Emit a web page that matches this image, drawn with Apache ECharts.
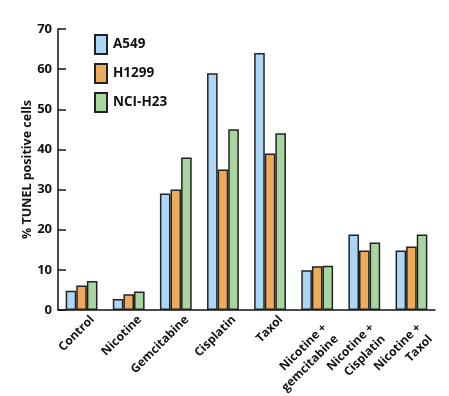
<!DOCTYPE html>
<html>
<head>
<meta charset="utf-8">
<script src="https://cdn.jsdelivr.net/npm/echarts@6/dist/echarts.min.js"></script>
<style>
  html, body { margin: 0; padding: 0; background: #fff; }
  #chart { width: 449px; height: 396px; }
</style>
</head>
<body>
<div id="chart"></div>
<script>
// categories and values
const categories = ['Control', 'Nicotine', 'Gemcitabine', 'Cisplatin', 'Taxol',
  'Nicotine +\ngemcitabine', 'Nicotine +\nCisplatin', 'Nicotine +\nTaxol'];
const a549 = [4.8, 2.7, 29, 59, 64, 9.9, 18.8, 14.8];
const h1299 = [6.1, 3.9, 30, 35, 39, 10.9, 14.8, 15.8];
const nciH23 = [7.2, 4.6, 38, 45, 44, 11, 16.8, 18.8];
const seriesNames = ['A549', 'H1299', 'NCI-H23'];
const seriesColors = ['#acd6f6', '#eeaa5c', '#a9d5a0'];

const FONT = '"Open Sans", sans-serif';
const chart = echarts.init(document.getElementById('chart'));

const makeSeries = (name, data, color) => ({
  name: name,
  type: 'bar',
  data: data,
  barWidth: 10.6,
  barGap: '0%',
  itemStyle: { color: color, borderColor: '#222', borderWidth: 1.5 }
});

// single-line labels sit a bit higher than the two-line ones
const labelFormatter = (v) => {
  const lines = v.split('\n');
  if (lines.length === 1) return '{s|' + v + '}';
  return '{m|' + lines[0] + '}\n{m|' + lines[1] + '}';
};
const labelText = { fontFamily: FONT, fontWeight: 'bold', fontSize: 12, color: '#111' };

chart.setOption({
  animation: false,
  grid: { left: 58, right: 14, top: 29, bottom: 86 },
  legend: {
    orient: 'vertical',
    left: 89,
    top: 29,
    itemWidth: 12,
    itemHeight: 19,
    itemGap: 8,
    icon: 'rect',
    textStyle: { fontFamily: FONT, fontWeight: 'bold', fontSize: 13.5, color: '#111', padding: [6, 0, 0, 1] },
    data: seriesNames
  },
  xAxis: {
    type: 'category',
    data: categories,
    axisLine: { lineStyle: { color: '#111', width: 1.5 } },
    axisTick: { show: false },
    axisLabel: {
      rotate: 45,
      interval: 0,
      margin: -6,
      align: 'right',
      verticalAlign: 'top',
      padding: [13, 0, 0, 0],
      formatter: labelFormatter,
      rich: {
        s: Object.assign({ lineHeight: 9, padding: [0, 2, 0, 0] }, labelText),
        m: Object.assign({ lineHeight: 16, padding: [0, 10, 0, 0] }, labelText)
      }
    }
  },
  yAxis: {
    type: 'value',
    min: 0,
    max: 70,
    interval: 10,
    name: '% TUNEL positive cells',
    nameLocation: 'middle',
    nameGap: 24,
    nameMoveOverlap: false,
    nameTextStyle: { fontFamily: FONT, fontWeight: 'bold', fontSize: 12.5, color: '#111' },
    axisLine: { show: true, lineStyle: { color: '#111', width: 1.5 } },
    axisTick: { show: true, inside: true, length: 8, lineStyle: { color: '#111', width: 1.5 } },
    splitLine: { show: false },
    axisLabel: { fontFamily: FONT, fontWeight: 'bold', fontSize: 13, color: '#111', margin: 6 }
  },
  series: [
    makeSeries(seriesNames[0], a549, seriesColors[0]),
    makeSeries(seriesNames[1], h1299, seriesColors[1]),
    makeSeries(seriesNames[2], nciH23, seriesColors[2])
  ]
});
</script>
</body>
</html>
